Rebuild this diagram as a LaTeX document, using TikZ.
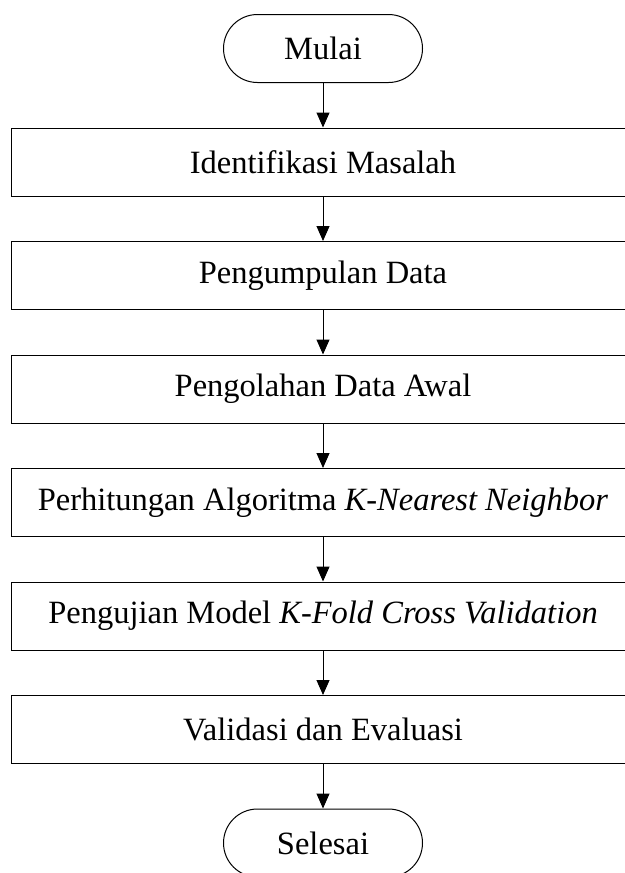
\documentclass[tikz,border=0pt]{standalone}
\usepackage{fontspec}
\setmainfont{Liberation Serif}
\usepackage{xcolor}
\usepackage{tikz}
\usetikzlibrary{positioning,arrows.meta}

\begin{document}
\begin{tikzpicture}[x=1pt,y=1pt,
            node distance=44.5pt,
            terminal/.style={rectangle,rounded corners=34pt,draw,line width=1pt,minimum width=199pt,minimum height=68pt,align=center,font=\fontsize{32.5}{38}\selectfont},
            process/.style={rectangle,draw,line width=1pt,minimum width=624pt,minimum height=68pt,align=center,font=\fontsize{32.5}{38}\selectfont},
            arrow/.style={-{Triangle[width=13pt,length=15pt]},line width=1pt}]
            \useasboundingbox (0,0) rectangle (624,-873);
            \node[terminal] (mulai) at (323,-48.5) {Mulai};
            \node[process,below=of mulai] (p1) {Identifikasi Masalah};
            \node[process,below=of p1] (p2) {Pengumpulan Data};
            \node[process,below=of p2] (p3) {Pengolahan Data Awal};
            \node[process,below=of p3] (p4) {Perhitungan Algoritma \textit{K-Nearest Neighbor}};
            \node[process,below=of p4] (p5) {Pengujian Model \textit{K-Fold Cross Validation}};
            \node[process,below=of p5] (p6) {Validasi dan Evaluasi};
            \node[terminal,below=of p6] (selesai) {Selesai};
            \draw[arrow] (mulai)--(p1);
            \draw[arrow] (p1)--(p2);
            \draw[arrow] (p2)--(p3);
            \draw[arrow] (p3)--(p4);
            \draw[arrow] (p4)--(p5);
            \draw[arrow] (p5)--(p6);
            \draw[arrow] (p6)--(selesai);
        \end{tikzpicture}
\end{document}
